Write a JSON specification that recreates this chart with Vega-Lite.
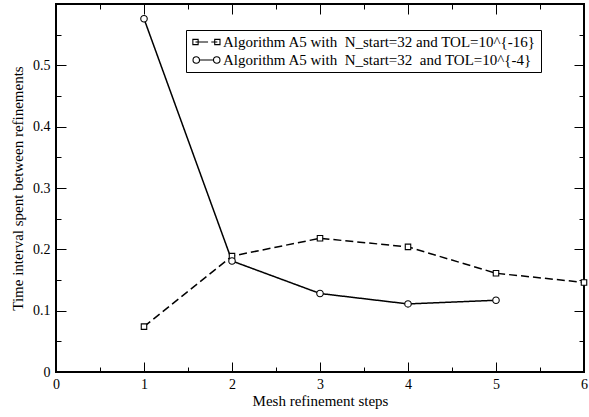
{
  "$schema": "https://vega.github.io/schema/vega-lite/v6.json",
  "width": 528,
  "height": 368,
  "autosize": "none",
  "padding": {"left": 56, "top": 4, "right": 5, "bottom": 45},
  "background": "white",
  "config": {
    "view": {"stroke": "black", "strokeWidth": 2},
    "font": "Liberation Serif",
    "axis": {
      "domain": false,
      "grid": false,
      "labelFont": "Liberation Serif",
      "labelFontSize": 14,
      "labelColor": "black",
      "tickColor": "black",
      "tickWidth": 1,
      "titleFont": "Liberation Serif",
      "titleFontSize": 15,
      "titleFontWeight": "normal",
      "titleColor": "black",
      "labelFlush": false,
      "labelOverlap": false
    }
  },
  "data": {
    "values": [
      {"step": 1, "time": 0.074, "series": "Algorithm A5 with\u00a0 N_start=32 and TOL=10^{-16}\u00a0\u00a0"},
      {"step": 2, "time": 0.189, "series": "Algorithm A5 with\u00a0 N_start=32 and TOL=10^{-16}\u00a0\u00a0"},
      {"step": 3, "time": 0.218, "series": "Algorithm A5 with\u00a0 N_start=32 and TOL=10^{-16}\u00a0\u00a0"},
      {"step": 4, "time": 0.204, "series": "Algorithm A5 with\u00a0 N_start=32 and TOL=10^{-16}\u00a0\u00a0"},
      {"step": 5, "time": 0.161, "series": "Algorithm A5 with\u00a0 N_start=32 and TOL=10^{-16}\u00a0\u00a0"},
      {"step": 6, "time": 0.146, "series": "Algorithm A5 with\u00a0 N_start=32 and TOL=10^{-16}\u00a0\u00a0"},
      {"step": 1, "time": 0.576, "series": "Algorithm A5 with\u00a0 N_start=32\u00a0 and TOL=10^{-4}"},
      {"step": 2, "time": 0.181, "series": "Algorithm A5 with\u00a0 N_start=32\u00a0 and TOL=10^{-4}"},
      {"step": 3, "time": 0.128, "series": "Algorithm A5 with\u00a0 N_start=32\u00a0 and TOL=10^{-4}"},
      {"step": 4, "time": 0.111, "series": "Algorithm A5 with\u00a0 N_start=32\u00a0 and TOL=10^{-4}"},
      {"step": 5, "time": 0.117, "series": "Algorithm A5 with\u00a0 N_start=32\u00a0 and TOL=10^{-4}"}
    ]
  },
  "layer": [
    {
      "mark": {"type": "line", "color": "black", "strokeWidth": 1.5},
      "encoding": {
        "x": {
          "field": "step", "type": "quantitative",
          "scale": {"domain": [0, 6], "nice": false, "zero": false},
          "axis": {"orient": "bottom", "values": [0, 1, 2, 3, 4, 5, 6], "tickSize": -10, "labelPadding": 15, "format": "d", "labelFont": "Liberation Serif", "title": "Mesh refinement steps", "titleY": 33, "titleBaseline": "alphabetic"}
        },
        "y": {
          "field": "time", "type": "quantitative",
          "scale": {"domain": [0, 0.6], "nice": false, "zero": false},
          "axis": {"orient": "left", "values": [0, 0.1, 0.2, 0.3, 0.4, 0.5], "tickSize": -10, "labelPadding": 16, "labelFont": "Liberation Serif", "labelExpr": "datum.value == 0 ? '0' : format(datum.value, '.1f')", "title": "Time interval spent between refinements", "titleX": -34, "titleBaseline": "alphabetic"}
        },
        "strokeDash": {
          "field": "series", "type": "nominal",
          "scale": {"domain": ["Algorithm A5 with\u00a0 N_start=32 and TOL=10^{-16}\u00a0\u00a0", "Algorithm A5 with\u00a0 N_start=32\u00a0 and TOL=10^{-4}"], "range": [[8, 4], [1, 0]]},
          "legend": null
        }
      }
    },
    {
      "mark": {"type": "point", "filled": true, "fill": "white", "stroke": "black", "strokeWidth": 1.1, "opacity": 1},
      "encoding": {
        "x": {
          "field": "step", "type": "quantitative",
          "axis": {"orient": "bottom", "values": [0.5, 1.5, 2.5, 3.5, 4.5, 5.5], "tickSize": -5, "labels": false, "title": null}
        },
        "y": {
          "field": "time", "type": "quantitative",
          "axis": {"orient": "left", "values": [0.05, 0.15, 0.25, 0.35, 0.45, 0.55], "tickSize": -5, "labels": false, "title": null}
        },
        "shape": {
          "field": "series", "type": "nominal",
          "scale": {"domain": ["Algorithm A5 with\u00a0 N_start=32 and TOL=10^{-16}\u00a0\u00a0", "Algorithm A5 with\u00a0 N_start=32\u00a0 and TOL=10^{-4}"], "range": ["square", "circle"]},
          "legend": null
        },
        "size": {
          "field": "series", "type": "nominal",
          "scale": {"domain": ["Algorithm A5 with\u00a0 N_start=32 and TOL=10^{-16}\u00a0\u00a0", "Algorithm A5 with\u00a0 N_start=32\u00a0 and TOL=10^{-4}"], "range": [30, 42]},
          "legend": null
        }
      }
    },
    {
      "mark": {"type": "point", "opacity": 0},
      "encoding": {
        "x": {
          "field": "step", "type": "quantitative",
          "axis": {"orient": "top", "values": [1, 2, 3, 4, 5], "tickSize": -10, "labels": false, "title": null}
        },
        "y": {
          "field": "time", "type": "quantitative",
          "axis": {"orient": "right", "values": [0.1, 0.2, 0.3, 0.4, 0.5], "tickSize": -10, "labels": false, "title": null}
        },
        "shape": {
          "field": "series", "type": "nominal",
          "scale": {
            "domain": ["Algorithm A5 with\u00a0 N_start=32 and TOL=10^{-16}\u00a0\u00a0", "Algorithm A5 with\u00a0 N_start=32\u00a0 and TOL=10^{-4}"],
            "range": [
              "M-0.88,-0.17L-0.54,-0.17L-0.54,0.17L-0.88,0.17ZM-0.71,0L0.1,0M0.31,0L0.7,0M0.53,-0.17L0.87,-0.17L0.87,0.17L0.53,0.17Z",
              "M-0.45,0A0.21,0.21 0 1,1 -0.87,0A0.21,0.21 0 1,1 -0.45,0M-0.45,0L0.45,0M0.87,0A0.21,0.21 0 1,1 0.45,0A0.21,0.21 0 1,1 0.87,0"
            ]
          },
          "legend": {
            "orient": "none",
            "legendX": 130,
            "legendY": 26,
            "title": null,
            "strokeColor": "black",
            "fillColor": "white",
            "padding": 4,
            "symbolSize": 961,
            "clipHeight": 16,
            "symbolStrokeWidth": 1.1,
            "symbolStrokeColor": "black",
            "symbolFillColor": "transparent",
            "symbolOpacity": 1,
            "labelFont": "Liberation Serif",
            "labelFontSize": 15,
            "labelColor": "black",
            "labelOffset": 0,
            "labelLimit": 0,
            "rowPadding": 2
          }
        }
      }
    },
    {
      "mark": {"type": "point", "opacity": 0},
      "encoding": {
        "x": {
          "field": "step", "type": "quantitative",
          "axis": {"orient": "top", "values": [0.5, 1.5, 2.5, 3.5, 4.5, 5.5], "tickSize": -5, "labels": false, "title": null}
        },
        "y": {
          "field": "time", "type": "quantitative",
          "axis": {"orient": "right", "values": [0.05, 0.15, 0.25, 0.35, 0.45, 0.55], "tickSize": -5, "labels": false, "title": null}
        }
      }
    }
  ],
  "resolve": {
    "axis": {"x": "independent", "y": "independent"},
    "scale": {"shape": "independent"}
  }
}
